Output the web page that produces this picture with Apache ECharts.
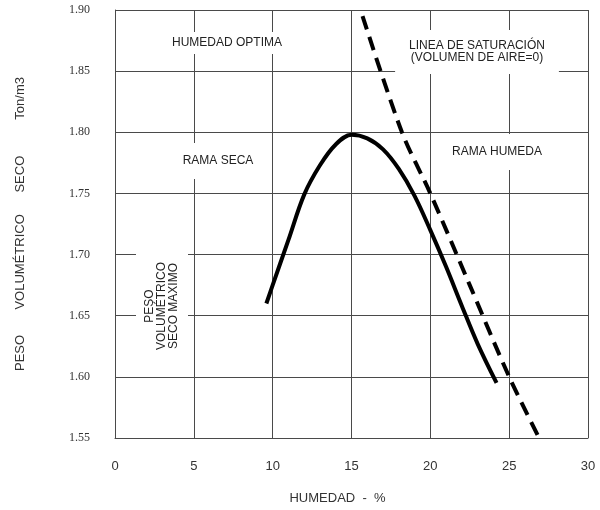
<!DOCTYPE html>
<html>
<head>
<meta charset="utf-8">
<script src="https://cdn.jsdelivr.net/npm/echarts@6/dist/echarts.min.js"></script>
<style>
  html, body { margin: 0; padding: 0; background: #fff; }
  #chart { width: 600px; height: 510px; }
</style>
</head>
<body>
<div id="chart"></div>
<script>
// curva de compactacion (humedad %, peso volumetrico seco)
var curveHumedad = [9.6, 10, 11, 12, 13, 14, 15, 16, 17, 18, 19, 20, 21, 22, 23, 24.2];
var curvePeso = [1.66, 1.675, 1.712, 1.749, 1.773, 1.79, 1.798, 1.795, 1.786, 1.77, 1.748, 1.72, 1.69, 1.658, 1.627, 1.595];

// linea de saturacion
var satHumedad = [15.7, 18.2, 20, 22.5, 25, 26.9];
var satPeso = [1.895, 1.80, 1.75, 1.675, 1.60, 1.55];

var xTicks = [0, 5, 10, 15, 20, 25, 30];
var yTicks = [1.55, 1.60, 1.65, 1.70, 1.75, 1.80, 1.85, 1.90];

function pairs(xs, ys) {
    var out = [];
    for (var i = 0; i < xs.length; i++) {
        out.push([xs[i], ys[i]]);
    }
    return out;
}

var chart = echarts.init(document.getElementById('chart'));

var gridColor = '#4a4a4a';
var boxText = {
    font: '12px Arial, "Liberation Sans", sans-serif',
    fill: '#222',
    align: 'center',
    verticalAlign: 'middle',
    backgroundColor: '#fff'
};

function label(txt, x, y, pad, extra) {
    var st = Object.assign({}, boxText, {text: txt, x: 0, y: 0, padding: pad});
    var el = {type: 'text', x: x, y: y, z: 10, style: st};
    return Object.assign(el, extra || {});
}

var option = {
    backgroundColor: '#fff',
    animation: false,
    grid: {left: 115, right: 12, top: 10, bottom: 70},
    xAxis: {
        type: 'value',
        min: xTicks[0],
        max: xTicks[xTicks.length - 1],
        interval: 5,
        name: 'HUMEDAD  -  %',
        nameLocation: 'middle',
        nameGap: 54,
        nameTextStyle: {
            fontFamily: 'Arial, "Liberation Sans", sans-serif',
            fontSize: 13,
            color: '#333',
            padding: [0, 28, 0, 0]
        },
        axisLine: {show: true, lineStyle: {color: gridColor, width: 1}},
        axisTick: {show: false},
        axisLabel: {
            margin: 22,
            fontFamily: 'Arial, "Liberation Sans", sans-serif',
            fontSize: 13,
            color: '#333'
        },
        splitLine: {show: true, lineStyle: {color: gridColor, width: 1}}
    },
    yAxis: {
        type: 'value',
        min: yTicks[0],
        max: yTicks[yTicks.length - 1],
        interval: 0.05,
        name: 'PESO       VOLUMÉTRICO      SECO          Ton/m3',
        nameLocation: 'middle',
        nameGap: 88,
        nameTextStyle: {
            fontFamily: 'Arial, "Liberation Sans", sans-serif',
            fontSize: 13,
            color: '#333'
        },
        axisLine: {show: true, lineStyle: {color: gridColor, width: 1}},
        axisTick: {show: false},
        axisLabel: {
            margin: 25,
            fontFamily: '"Liberation Serif", "DejaVu Serif", serif',
            fontSize: 12,
            color: '#333',
            formatter: function (v) { return v.toFixed(2); }
        },
        splitLine: {show: true, lineStyle: {color: gridColor, width: 1}}
    },
    series: [
        {
            name: 'compactacion',
            type: 'line',
            smooth: 0.35,
            showSymbol: false,
            lineStyle: {color: '#000', width: 4},
            data: pairs(curveHumedad, curvePeso)
        },
        {
            name: 'saturacion',
            type: 'line',
            smooth: 0.3,
            showSymbol: false,
            lineStyle: {color: '#000', width: 4, type: [14, 8]},
            data: pairs(satHumedad, satPeso)
        }
    ],
    graphic: [
        label('HUMEDAD OPTIMA', 227, 43, [5, 10, 5, 10]),
        label('LINEA DE SATURACIÓN\n(VOLUMEN DE AIRE=0)', 477, 52, [10, 14, 10, 14]),
        label('RAMA SECA', 218, 161, [12, 10, 12, 10]),
        label('RAMA HUMEDA', 497, 152, [12, 10, 12, 10]),
        label('PESO\nVOLUMÉTRICO\nSECO MAXIMO', 162, 306, [8, 22, 8, 22], {rotation: Math.PI / 2})
    ]
};

chart.setOption(option);
</script>
</body>
</html>
